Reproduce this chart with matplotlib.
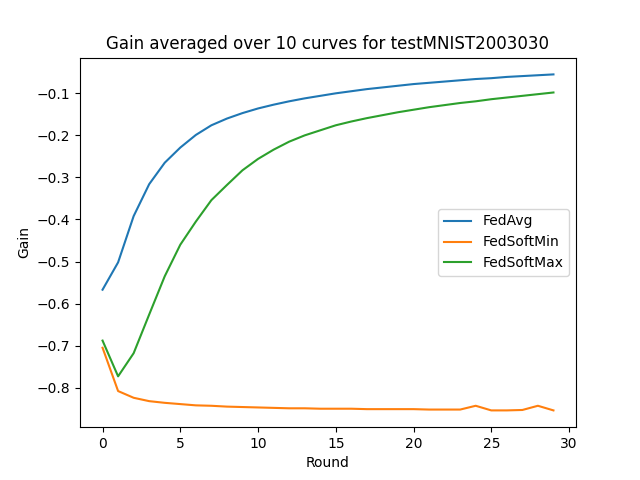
import numpy as np
from matplotlib import pyplot as plt

rounds = np.arange(30)
fedavg = [-0.567, -0.502, -0.392, -0.316, -0.265, -0.229, -0.199, -0.176, -0.160, -0.147,
          -0.136, -0.127, -0.119, -0.112, -0.106, -0.100, -0.095, -0.090, -0.086, -0.082,
          -0.078, -0.075, -0.072, -0.069, -0.066, -0.064, -0.061, -0.059, -0.057, -0.055]
fedsoftmin = [-0.705, -0.808, -0.824, -0.832, -0.836, -0.839, -0.842, -0.843, -0.845, -0.846,
              -0.847, -0.848, -0.849, -0.849, -0.850, -0.850, -0.850, -0.851, -0.851, -0.851,
              -0.851, -0.852, -0.852, -0.852, -0.843, -0.854, -0.854, -0.853, -0.843, -0.854]
fedsoftmax = [-0.688, -0.773, -0.718, -0.626, -0.535, -0.460, -0.405, -0.354, -0.318, -0.283,
              -0.256, -0.234, -0.215, -0.200, -0.188, -0.176, -0.167, -0.159, -0.152, -0.145,
              -0.139, -0.133, -0.128, -0.123, -0.119, -0.114, -0.110, -0.106, -0.102, -0.098]

plt.figure(figsize=(6.4, 4.8))
plt.plot(rounds, fedavg, label='FedAvg')
plt.plot(rounds, fedsoftmin, label='FedSoftMin')
plt.plot(rounds, fedsoftmax, label='FedSoftMax')
plt.legend(loc='center right')
plt.title("Gain averaged over 10 curves for testMNIST2003030")
plt.xlabel("Round")
plt.ylabel("Gain")
plt.savefig('out.png', dpi=100)
